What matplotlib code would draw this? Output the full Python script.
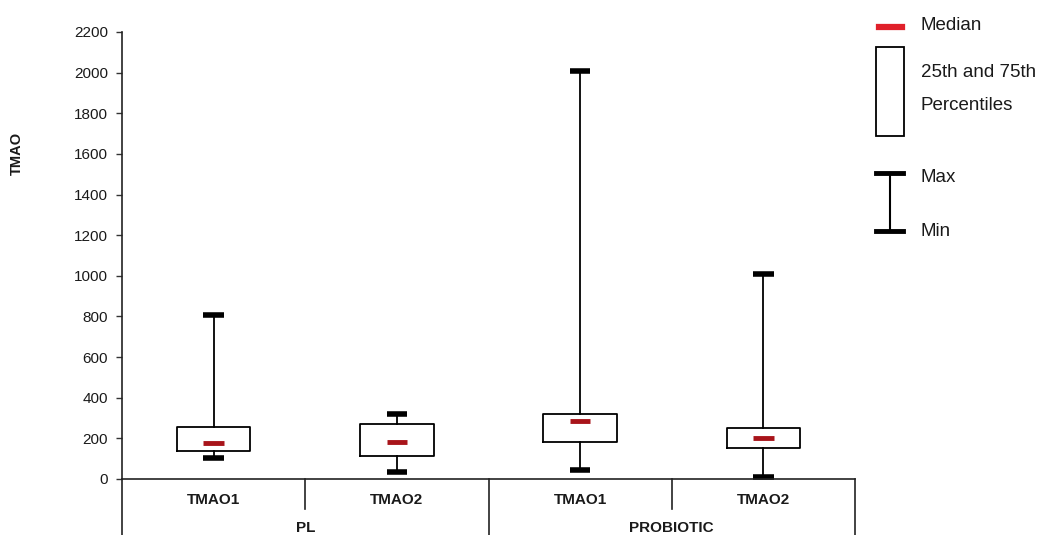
import matplotlib
matplotlib.use("Agg")
import matplotlib.pyplot as plt
from matplotlib.lines import Line2D
from matplotlib.patches import Rectangle
import matplotlib.transforms as mtransforms

# ---- data ----
groups = ["PL", "PROBIOTIC"]
categories = ["TMAO1", "TMAO2", "TMAO1", "TMAO2"]
mins = [103, 34, 44, 8]
q1 = [138, 113, 184, 154]
medians = [177, 182, 285, 204]
q3 = [256, 271, 322, 253]
maxs = [808, 320, 2010, 1008]
yticks = list(range(0, 2201, 200))

plt.rcParams['font.family'] = ['Liberation Sans', 'DejaVu Sans']
TXT = '#1a1a1a'

W, H = 1048, 535
fig = plt.figure(figsize=(W / 100, H / 100), dpi=100)
ax = fig.add_axes([122 / W, 1 - 479 / H, (855 - 122) / W, (479 - 32) / H])

stats = [dict(whislo=mn, q1=a, med=m, q3=b, whishi=mx)
         for mn, a, m, b, mx in zip(mins, q1, medians, q3, maxs)]
pos = list(range(len(categories)))
res = ax.bxp(stats, positions=pos, widths=0.4, capwidths=0.113, showfliers=False,
             boxprops=dict(color='black', lw=1.3),
             whiskerprops=dict(color='black', lw=1.3),
             capprops=dict(color='black', lw=4, solid_capstyle='butt'),
             medianprops=dict(visible=False))
for k in ('caps', 'whiskers', 'boxes'):
    for a in res[k]:
        a.set_clip_on(False)
ax.hlines(medians, [p - 0.056 for p in pos], [p + 0.056 for p in pos],
          color='#a8141a', lw=3.5, zorder=5)

ax.set_xlim(-0.5, len(categories) - 0.5)
ax.set_ylim(0, 2200)
ax.set_yticks(yticks)
ax.set_yticklabels([str(t) for t in yticks], fontsize=11, color=TXT)
ax.tick_params(axis='y', direction='out', length=4, width=1, pad=6, colors='#333333',
               labelcolor=TXT)
ax.set_xticks([])
for s in ('top', 'right'):
    ax.spines[s].set_visible(False)
for s in ('left', 'bottom'):
    ax.spines[s].set_linewidth(1.2)
    ax.spines[s].set_color('#222222')

# category axis lines below zero
tr = mtransforms.blended_transform_factory(ax.transData, ax.transAxes)
deep = (479 - 535) / 447
shallow = (479 - 509) / 447
for x, d in [(-0.5, deep), (0.5, shallow), (1.5, deep), (2.5, shallow), (3.5, deep)]:
    ax.add_line(Line2D([x, x], [0, d], transform=tr, color='#222222', lw=1.2, clip_on=False))

for p, c in zip(pos, categories):
    ax.text(p, (479 - 500) / 447, c, transform=tr, ha='center', va='center',
            fontsize=11, fontweight='bold', color=TXT)
for i, g in enumerate(groups):
    ax.text(2 * i + 0.5, (479 - 528) / 447, g, transform=tr, ha='center', va='center',
            fontsize=11, fontweight='bold', color=TXT)

fig.text(17 / W, 1 - 153 / H, 'TMAO', rotation=90, ha='center', va='center',
         fontsize=10.5, fontweight='bold', color=TXT)

# ---- legend (figure pixels) ----
def fx(x):
    return x / W

def fy(y):
    return 1 - y / H

fig.add_artist(Line2D([fx(879), fx(902)], [fy(27), fy(27)], color='#e0202a', lw=4.5))
fig.add_artist(Rectangle((fx(876), fy(136)), fx(904) - fx(876), fy(47) - fy(136),
                         fill=False, ec='black', lw=1.3))
fig.add_artist(Line2D([fx(876), fx(903)], [fy(173), fy(173)], color='black', lw=3.5))
fig.add_artist(Line2D([fx(876), fx(903)], [fy(231), fy(231)], color='black', lw=3.5))
fig.add_artist(Line2D([fx(889.5), fx(889.5)], [fy(173), fy(231)], color='black', lw=1.5))

lfs = 13.5
fig.text(fx(921), fy(25), 'Median', ha='left', va='center', fontsize=lfs, color=TXT)
fig.text(fx(921), fy(72), '25th and 75th', ha='left', va='center', fontsize=lfs, color=TXT)
fig.text(fx(921), fy(105), 'Percentiles', ha='left', va='center', fontsize=lfs, color=TXT)
fig.text(fx(921), fy(177), 'Max', ha='left', va='center', fontsize=lfs, color=TXT)
fig.text(fx(921), fy(231), 'Min', ha='left', va='center', fontsize=lfs, color=TXT)

fig.savefig('out.png', dpi=100)
